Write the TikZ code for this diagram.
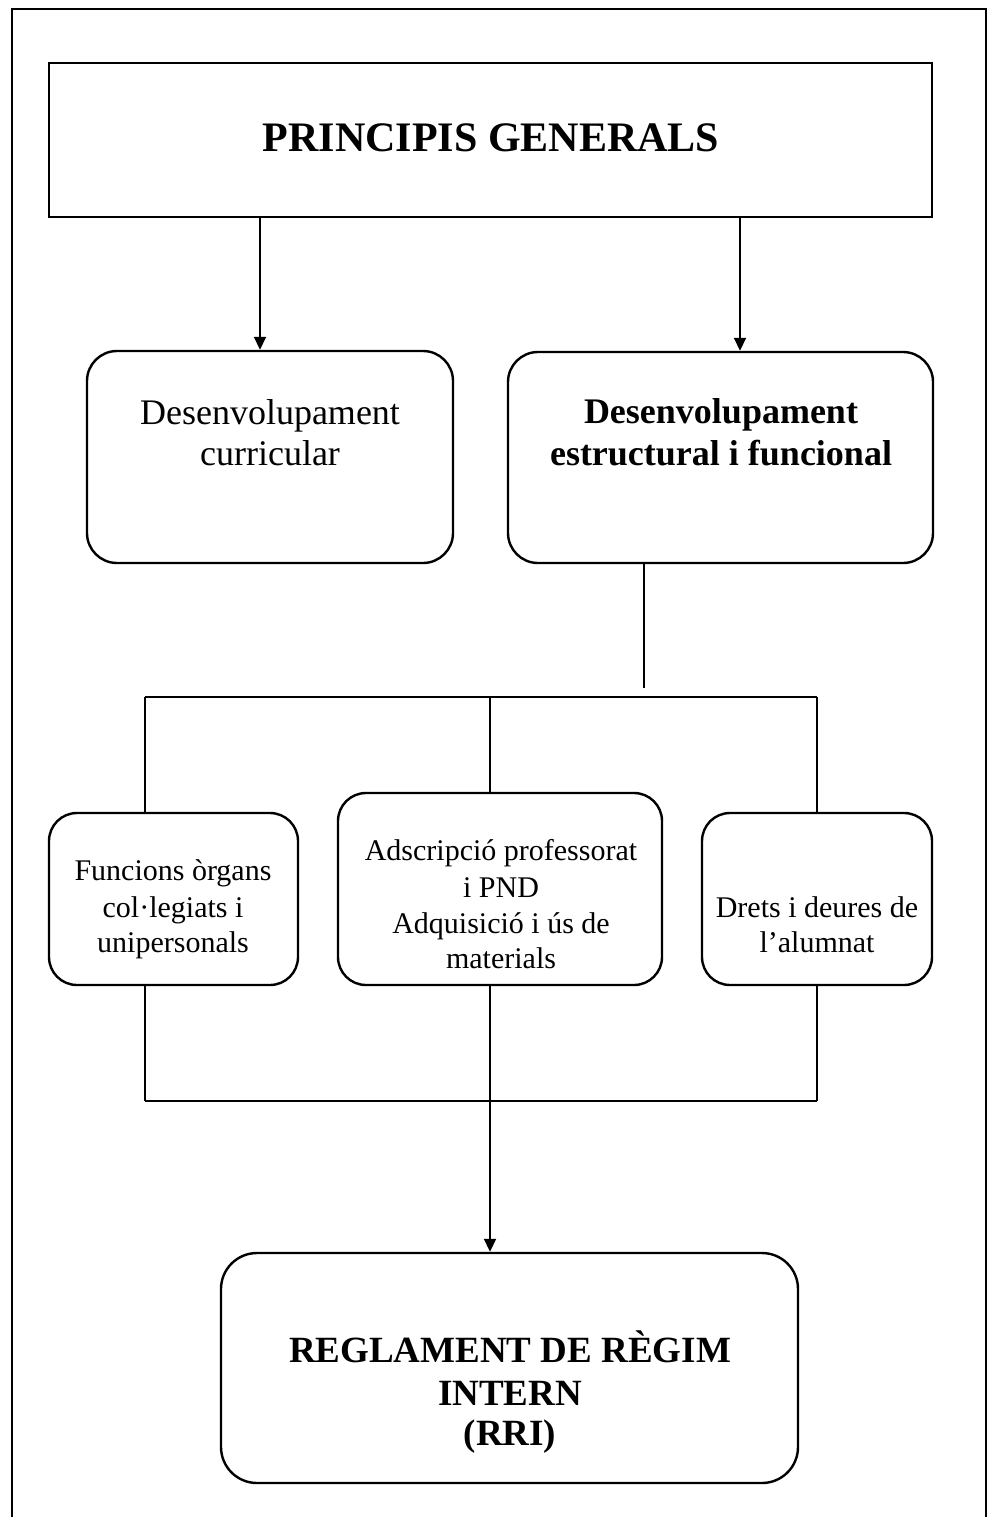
\documentclass[tikz,border=0pt]{standalone}
\usepackage{fontspec}
\setmainfont{Liberation Serif}
\usetikzlibrary{arrows.meta,fit}
\begin{document}
\begin{tikzpicture}[x=1pt,y=-1pt]
\tikzset{
  frameline/.style={line width=2pt},
  sqbox/.style={draw, line width=2.6pt, inner sep=0pt},
  rbox/.style={draw, line width=2.4pt, inner sep=0pt, rounded corners=#1},
  rbox/.default=30pt,
  link/.style={line width=2pt},
  arr/.style={line width=1.8pt, -{Triangle[length=13pt,width=12pt]}},
  bigtxt/.style={font=\fontsize{42}{42}\selectfont\bfseries, inner sep=0pt},
  rritxt/.style={font=\fontsize{37}{37}\selectfont\bfseries, inner sep=0pt},
  midtxt/.style={font=\fontsize{36}{36}\selectfont, inner sep=0pt},
  midbold/.style={font=\fontsize{36}{36}\selectfont\bfseries, inner sep=0pt},
  smalltxt/.style={font=\fontsize{30}{30}\selectfont, inner sep=0pt},
}
\useasboundingbox (0,0) rectangle (989,1517);

% page frame, open at the bottom
\draw[frameline] (12,1517) -- (12,9) -- (986,9) -- (986,1517);

% boxes
\node[sqbox, fit={(49,63) (932,217)}] (top) {};
\node[rbox, fit={(87,351) (453,563)}] (cur) {};
\node[rbox, fit={(508,352) (933,563)}] (est) {};
\node[rbox=28pt, fit={(49,813) (298,985)}] (fun) {};
\node[rbox=28pt, fit={(338,793) (662,985)}] (ads) {};
\node[rbox=28pt, fit={(702,813) (932,985)}] (dre) {};
\node[rbox=36pt, fit={(221,1253) (798,1483)}] (rri) {};

% texts
\node[bigtxt, anchor=base] (ttop) at (491,152) {PRINCIPIS GENERALS};

\node[midtxt, anchor=base] (cur1) at (270,424) {Desenvolupament};
\node[midtxt, anchor=base] (cur2) at (270,465) {curricular};

\node[midbold, anchor=base] (est1) at (721,423) {Desenvolupament};
\node[midbold, anchor=base] (est2) at (721,465) {estructural i funcional};

\node[smalltxt, anchor=base] (fun1) at (173,880) {Funcions òrgans};
\node[smalltxt, anchor=base] (fun2) at (173,917) {col·legiats i};
\node[smalltxt, anchor=base] (fun3) at (173,952) {unipersonals};

\node[smalltxt, anchor=base] (ads1) at (501,860) {Adscripció professorat};
\node[smalltxt, anchor=base] (ads2) at (501,897) {i PND};
\node[smalltxt, anchor=base] (ads3) at (501,933) {Adquisició i ús de};
\node[smalltxt, anchor=base] (ads4) at (501,968) {materials};

\node[smalltxt, anchor=base] (dre1) at (817,917) {Drets i deures de};
\node[smalltxt, anchor=base] (dre2) at (817,952) {l’alumnat};

\node[rritxt, anchor=base] (rri1) at (510,1362) {REGLAMENT DE RÈGIM};
\node[rritxt, anchor=base] (rri2) at (510,1405) {INTERN};
\node[rritxt, anchor=base] (rri3) at (510,1445) {(RRI)};

% helper points for the branch lines
\coordinate (xl) at (145,0);
\coordinate (xm) at (490,0);
\coordinate (xr) at (817,0);
\coordinate (xe) at (644,0);
\coordinate (estend) at (644,688);
\coordinate (ytop) at (0,697);
\coordinate (ybot) at (0,1101);

% arrows from the general principles
\draw[arr] (top.south -| 260,0) -- (cur.north -| 260,0);
\draw[arr] (top.south -| 740,0) -- (est.north -| 740,0);

% structural branch
\draw[link] (est.south -| xe) -- (estend);
\draw[link] (xl |- ytop) -- (xr |- ytop);
\draw[link] (xl |- ytop) -- (fun.north -| xl);
\draw[link] (xm |- ytop) -- (ads.north -| xm);
\draw[link] (xr |- ytop) -- (dre.north -| xr);

% joining the three parts
\draw[link] (fun.south -| xl) -- (xl |- ybot);
\draw[link] (dre.south -| xr) -- (xr |- ybot);
\draw[link] (xl |- ybot) -- (xr |- ybot);
\draw[arr] (ads.south -| xm) -- (rri.north -| xm);
\end{tikzpicture}
\end{document}
